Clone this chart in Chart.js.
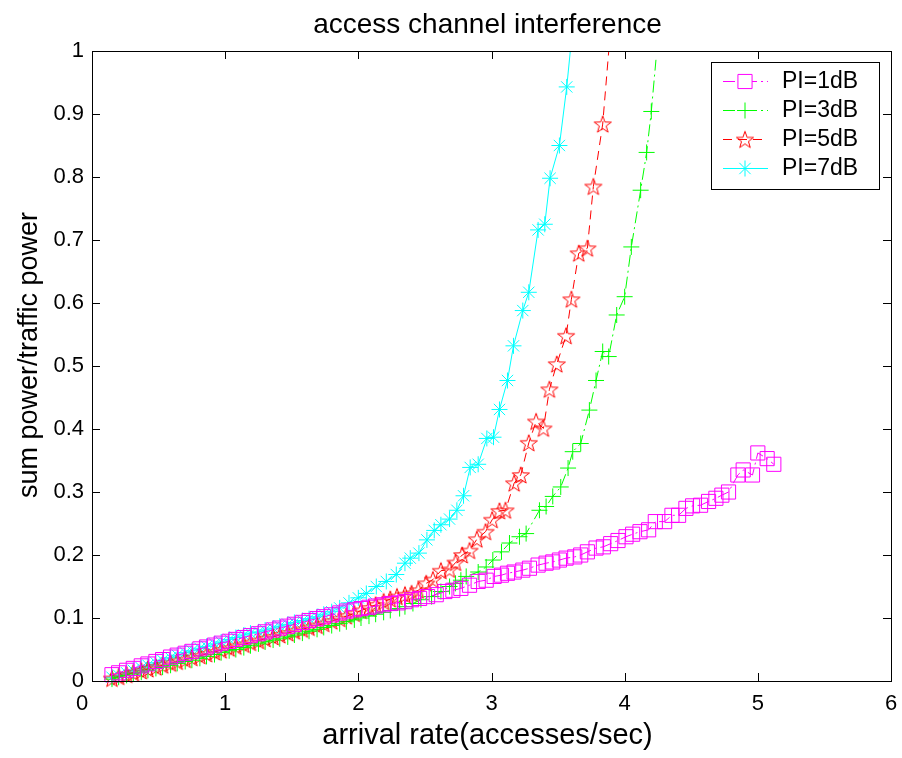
<!DOCTYPE html>
<html><head><meta charset="utf-8">
<script src="https://cdn.jsdelivr.net/npm/chart.js@4.4.1/dist/chart.umd.min.js"></script>
<style>html,body{margin:0;padding:0;background:#fff;}canvas{display:block;}</style>
</head><body>
<canvas id="c" width="902" height="758"></canvas>
<script>
const titleText = 'access channel interference';
const xLabelText = 'arrival rate(accesses/sec)';
const yLabelText = 'sum power/traffic power';
const seriesNames = ['PI=1dB', 'PI=3dB', 'PI=5dB', 'PI=7dB'];
const xTicks = [0, 1, 2, 3, 4, 5, 6];
const xTickLabels = ['0', '1', '2', '3', '4', '5', '6'];
const yTicks = [0, 0.1, 0.2, 0.3, 0.4, 0.5, 0.6, 0.7, 0.8, 0.9, 1];
const yTickLabels = ['0', '0.1', '0.2', '0.3', '0.4', '0.5', '0.6', '0.7', '0.8', '0.9', '1'];

// PI=1dB (magenta squares)
const x1 = [0.15,0.20,0.26,0.31,0.37,0.42,0.48,0.53,0.59,0.64,0.70,0.75,0.81,0.86,0.92,0.97,1.03,1.08,1.14,1.19,1.25,1.30,1.36,1.41,1.47,1.52,1.58,1.63,1.69,1.74,1.80,1.86,1.91,1.97,2.02,2.08,2.13,2.19,2.24,2.30,2.35,2.40,2.46,2.52,2.585,2.65,2.71,2.77,2.835,2.90,2.96,3.02,3.075,3.12,3.17,3.235,3.285,3.35,3.41,3.46,3.51,3.56,3.625,3.67,3.72,3.785,3.84,3.895,3.95,4.01,4.06,4.115,4.18,4.23,4.30,4.355,4.405,4.46,4.51,4.57,4.63,4.685,4.73,4.78,4.85,4.89,4.96,5.00,5.07,5.12];
const y1 = [0.010,0.013,0.017,0.020,0.024,0.027,0.031,0.034,0.038,0.041,0.044,0.047,0.051,0.054,0.057,0.060,0.063,0.066,0.069,0.072,0.075,0.078,0.081,0.084,0.087,0.090,0.093,0.096,0.099,0.102,0.105,0.108,0.111,0.113,0.115,0.117,0.119,0.121,0.123,0.124,0.126,0.129,0.131,0.134,0.137,0.142,0.144,0.147,0.152,0.158,0.160,0.166,0.168,0.171,0.173,0.176,0.179,0.184,0.187,0.189,0.192,0.195,0.197,0.200,0.205,0.211,0.213,0.218,0.223,0.229,0.233,0.237,0.240,0.253,0.253,0.263,0.263,0.274,0.278,0.279,0.285,0.290,0.295,0.300,0.327,0.335,0.327,0.362,0.353,0.344];

// PI=3dB (green plus)
const x3 = [0.15,0.20,0.26,0.31,0.37,0.42,0.48,0.53,0.59,0.64,0.70,0.75,0.81,0.86,0.92,0.97,1.03,1.08,1.14,1.19,1.25,1.30,1.36,1.41,1.47,1.52,1.58,1.63,1.69,1.74,1.80,1.86,1.91,1.97,2.02,2.08,2.13,2.19,2.24,2.31,2.35,2.41,2.47,2.55,2.62,2.685,2.73,2.77,2.81,2.90,2.96,3.01,3.075,3.135,3.21,3.26,3.36,3.41,3.46,3.52,3.575,3.61,3.67,3.735,3.785,3.835,3.88,3.94,4.00,4.05,4.12,4.165,4.20,4.235];
const y3 = [0.003,0.006,0.009,0.011,0.014,0.017,0.020,0.022,0.025,0.028,0.031,0.033,0.036,0.039,0.042,0.045,0.048,0.050,0.053,0.056,0.059,0.062,0.065,0.067,0.070,0.073,0.076,0.079,0.082,0.085,0.088,0.091,0.094,0.097,0.100,0.103,0.106,0.109,0.112,0.115,0.118,0.123,0.129,0.134,0.142,0.150,0.155,0.160,0.166,0.173,0.181,0.192,0.205,0.219,0.229,0.234,0.271,0.277,0.293,0.308,0.338,0.364,0.377,0.430,0.477,0.523,0.515,0.581,0.610,0.689,0.779,0.839,0.904,0.986];

// PI=5dB (red pentagrams)
const x5 = [0.15,0.20,0.26,0.31,0.37,0.42,0.48,0.53,0.59,0.64,0.70,0.75,0.81,0.86,0.92,0.97,1.03,1.08,1.14,1.19,1.25,1.30,1.36,1.41,1.47,1.52,1.58,1.63,1.69,1.74,1.80,1.86,1.91,1.97,2.02,2.08,2.13,2.19,2.24,2.29,2.35,2.40,2.45,2.51,2.56,2.62,2.685,2.73,2.78,2.835,2.89,2.955,3.005,3.06,3.105,3.17,3.22,3.28,3.335,3.39,3.435,3.49,3.56,3.60,3.655,3.72,3.765,3.835,3.90];
const y5 = [0.004,0.007,0.010,0.013,0.016,0.019,0.022,0.025,0.028,0.031,0.034,0.037,0.040,0.043,0.046,0.049,0.052,0.055,0.058,0.061,0.064,0.067,0.070,0.073,0.076,0.079,0.082,0.085,0.088,0.091,0.095,0.099,0.103,0.107,0.112,0.116,0.121,0.126,0.130,0.134,0.137,0.139,0.144,0.155,0.161,0.175,0.177,0.188,0.200,0.207,0.225,0.237,0.256,0.270,0.271,0.314,0.327,0.378,0.412,0.401,0.463,0.503,0.548,0.606,0.679,0.687,0.785,0.884,1.05];

// PI=7dB (cyan asterisks)
const x7 = [0.15,0.20,0.26,0.31,0.37,0.42,0.48,0.53,0.59,0.64,0.70,0.75,0.81,0.86,0.92,0.97,1.03,1.08,1.14,1.19,1.25,1.30,1.36,1.41,1.47,1.52,1.58,1.63,1.69,1.74,1.80,1.86,1.93,2.00,2.06,2.135,2.21,2.285,2.35,2.39,2.455,2.515,2.57,2.62,2.685,2.74,2.79,2.84,2.90,2.965,3.015,3.06,3.12,3.165,3.235,3.28,3.35,3.40,3.44,3.51,3.565,3.62];
const y7 = [0.006,0.009,0.013,0.017,0.021,0.025,0.029,0.033,0.037,0.041,0.045,0.048,0.052,0.055,0.059,0.062,0.066,0.069,0.073,0.076,0.078,0.081,0.084,0.087,0.090,0.093,0.096,0.099,0.102,0.106,0.110,0.116,0.124,0.132,0.139,0.150,0.158,0.169,0.187,0.195,0.203,0.224,0.239,0.248,0.257,0.271,0.294,0.339,0.344,0.385,0.387,0.431,0.477,0.532,0.588,0.617,0.716,0.725,0.798,0.850,0.943,1.06];

function pairs(xs, ys) { return xs.map((x, i) => ({ x: x, y: ys[i] })); }

function makeStar(size, color) {
  const c = document.createElement('canvas');
  c.width = size; c.height = size;
  const g = c.getContext('2d');
  g.strokeStyle = color; g.lineWidth = 1;
  const cx = size / 2, cy = size / 2 + 0.8, R = size / 2 - 1, r = R * 0.4;
  g.beginPath();
  for (let i = 0; i < 10; i++) {
    const a = -Math.PI / 2 + i * Math.PI / 5;
    const rr = (i % 2) ? r : R;
    const px = cx + rr * Math.cos(a), py = cy + rr * Math.sin(a);
    if (i) g.lineTo(px, py); else g.moveTo(px, py);
  }
  g.closePath(); g.stroke();
  return c;
}
const starImg = makeStar(20, '#ff0000');

const FONT = '"Liberation Sans", Arial, Helvetica, sans-serif';
const clipCfg = { left: 12, right: 12, top: 0, bottom: 12 };

const datasets = [
  { label: seriesNames[0], data: pairs(x1, y1), borderColor: '#ff00ff', borderWidth: 1, borderDash: [12, 4, 2, 4],
    pointStyle: 'rect', pointRadius: 10, pointBorderColor: '#ff00ff', pointBackgroundColor: 'rgba(0,0,0,0)', pointBorderWidth: 1, clip: clipCfg },
  { label: seriesNames[1], data: pairs(x3, y3), borderColor: '#00ff00', borderWidth: 1, borderDash: [12, 4, 2, 4],
    pointStyle: 'cross', pointRadius: (ctx) => ctx.dataIndex === x3.length - 1 ? 0 : 8, pointBorderColor: '#00ff00', pointBorderWidth: 1, clip: clipCfg },
  { label: seriesNames[2], data: pairs(x5, y5), borderColor: '#ff0000', borderWidth: 1, borderDash: [9, 6],
    pointStyle: starImg, pointRadius: 9, pointBorderColor: '#ff0000', pointBorderWidth: 1, clip: clipCfg },
  { label: seriesNames[3], data: pairs(x7, y7), borderColor: '#00ffff', borderWidth: 1,
    pointStyle: 'star', pointRadius: 8, pointBorderColor: '#00ffff', pointBorderWidth: 1, clip: clipCfg }
];

const matlabAxes = {
  id: 'matlabAxes',
  beforeDraw(chart) {
    const ctx = chart.ctx;
    ctx.save(); ctx.fillStyle = '#fff'; ctx.fillRect(0, 0, chart.width, chart.height); ctx.restore();
  },
  afterDatasetsDraw(chart) {
    const ctx = chart.ctx, a = chart.chartArea, xs = chart.scales.x, ys = chart.scales.y;
    ctx.save();
    ctx.strokeStyle = '#000'; ctx.lineWidth = 1; ctx.setLineDash([]);
    ctx.strokeRect(Math.round(a.left) + 0.5, Math.round(a.top) + 0.5, Math.round(a.right - a.left), Math.round(a.bottom - a.top));
    const tl = 8;
    ctx.beginPath();
    xTicks.forEach(v => {
      const px = Math.round(xs.getPixelForValue(v)) + 0.5;
      ctx.moveTo(px, a.bottom); ctx.lineTo(px, a.bottom - tl);
      ctx.moveTo(px, a.top); ctx.lineTo(px, a.top + tl);
    });
    yTicks.forEach(v => {
      const py = Math.round(ys.getPixelForValue(v)) + 0.5;
      ctx.moveTo(a.left, py); ctx.lineTo(a.left + tl, py);
      ctx.moveTo(a.right, py); ctx.lineTo(a.right - tl, py);
    });
    ctx.stroke();
    ctx.fillStyle = '#000';
    ctx.font = '22px ' + FONT;
    ctx.textAlign = 'center'; ctx.textBaseline = 'alphabetic';
    xTicks.forEach((v, i) => {
      let px = xs.getPixelForValue(v);
      if (i === 0) px -= 10;
      ctx.fillText(xTickLabels[i], px, 710);
    });
    ctx.textAlign = 'right'; ctx.textBaseline = 'middle';
    yTicks.forEach((v, i) => {
      ctx.fillText(yTickLabels[i], a.left - 8, ys.getPixelForValue(v));
    });
    ctx.restore();
  },
  afterDraw(chart) {
    const ctx = chart.ctx, a = chart.chartArea;
    ctx.save();
    ctx.fillStyle = '#000';
    ctx.font = '28px ' + FONT; ctx.textAlign = 'center'; ctx.textBaseline = 'alphabetic';
    ctx.fillText(titleText, (a.left + a.right) / 2 - 4, 33);
    ctx.font = '29px ' + FONT;
    ctx.fillText(xLabelText, (a.left + a.right) / 2 - 4, 744);
    ctx.save();
    ctx.translate(37, 355); ctx.rotate(-Math.PI / 2);
    ctx.font = '27px ' + FONT;
    ctx.fillText(yLabelText, 0, 0);
    ctx.restore();
    const bx = 711.5, by = 62.5, bw = 168, bh = 127;
    ctx.fillStyle = '#fff'; ctx.fillRect(bx, by, bw, bh);
    ctx.strokeStyle = '#000'; ctx.lineWidth = 1; ctx.strokeRect(bx, by, bw, bh);
    const rowY = [81, 110, 139, 168];
    chart.data.datasets.forEach((ds, i) => {
      const y = rowY[i];
      ctx.save();
      ctx.strokeStyle = ds.borderColor; ctx.lineWidth = 1;
      ctx.setLineDash(ds.borderDash || []);
      ctx.beginPath(); ctx.moveTo(723, y + 0.5); ctx.lineTo(768, y + 0.5); ctx.stroke();
      ctx.setLineDash([]);
      const r = (typeof ds.pointRadius === 'function') ? 8 : ds.pointRadius;
      Chart.helpers.drawPoint(ctx, { pointStyle: ds.pointStyle, radius: r, borderWidth: 1, rotation: 0 }, 745, y + 0.5);
      ctx.restore();
      ctx.save();
      ctx.fillStyle = '#000'; ctx.font = '23px ' + FONT; ctx.textAlign = 'left'; ctx.textBaseline = 'middle';
      ctx.fillText(ds.label, 782, y + 1);
      ctx.restore();
    });
    ctx.restore();
  }
};

new Chart(document.getElementById('c'), {
  type: 'line',
  data: { datasets: datasets },
  options: {
    responsive: false,
    animation: false,
    devicePixelRatio: 1,
    layout: { padding: { left: 92, top: 51, right: 11, bottom: 77 } },
    plugins: { legend: { display: false }, title: { display: false }, tooltip: { enabled: false } },
    scales: {
      x: { type: 'linear', min: 0, max: 6, display: false },
      y: { type: 'linear', min: 0, max: 1, display: false }
    },
    elements: { line: { tension: 0, fill: false } }
  },
  plugins: [matlabAxes]
});
</script>
</body></html>
